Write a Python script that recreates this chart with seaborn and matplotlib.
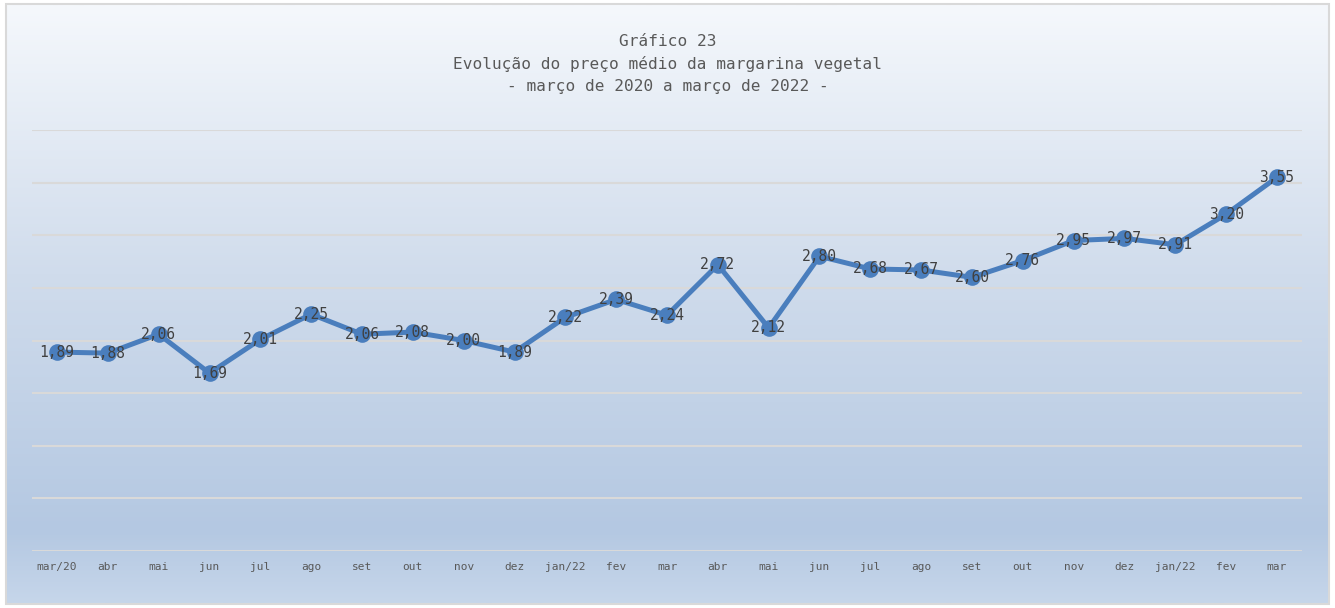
import numpy as np
import seaborn as sns
import matplotlib.pyplot as plt
from matplotlib.colors import LinearSegmentedColormap
from matplotlib.patches import Rectangle

# dados do gráfico
meses = ['mar/20', 'abr', 'mai', 'jun', 'jul', 'ago', 'set', 'out', 'nov', 'dez',
         'jan/22', 'fev', 'mar', 'abr', 'mai', 'jun', 'jul', 'ago', 'set', 'out',
         'nov', 'dez', 'jan/22', 'fev', 'mar']
precos = [1.89, 1.88, 2.06, 1.69, 2.01, 2.25, 2.06, 2.08, 2.00, 1.89,
          2.22, 2.39, 2.24, 2.72, 2.12, 2.80, 2.68, 2.67, 2.60, 2.76,
          2.95, 2.97, 2.91, 3.20, 3.55]
titulo = 'Gráfico 23\nEvolução do preço médio da margarina vegetal\n- março de 2020 a março de 2022 -'

sns.set_style('white')
plt.rcParams['font.family'] = ['DejaVu Sans Mono']

W, H = 1335, 608
fig = plt.figure(figsize=(W / 100, H / 100), dpi=100)

# fundo em degradê
bg = fig.add_axes([7 / W, 5 / H, (1328 - 7) / W, (603 - 5) / H])
cmap = LinearSegmentedColormap.from_list(
    'fundo', [(0, '#c6d6ea'), (0.12, '#b4c8e2'), (0.55, '#d0dcec'), (1, '#f5f8fc')])
grad = np.linspace(0, 1, 256).reshape(-1, 1)
bg.imshow(grad, cmap=cmap, aspect='auto', origin='lower', extent=[0, 1, 0, 1])
bg.set_axis_off()
fig.patches.append(Rectangle((6 / W, 4 / H), 1323 / W, 600 / H,
                             transform=fig.transFigure, fill=False,
                             edgecolor='#d9d9d9', linewidth=1.5))

ax = fig.add_axes([31.6 / W, 57 / H, 1270.8 / W, 421 / H])
ax.patch.set_alpha(0)

x = np.arange(len(precos))
sns.lineplot(x=x, y=precos, ax=ax, color='#4a7ebd', linewidth=3.6,
             marker='o', markersize=12, markeredgewidth=0, zorder=3)

for xi, v in zip(x, precos):
    ax.text(xi, v, f'{v:.2f}'.replace('.', ','), ha='center', va='center',
            fontsize=10.5, color='#404040', zorder=4)

ax.set_xlim(-0.5, len(precos) - 0.5)
ax.set_ylim(0, 4)
ax.set_yticks(np.arange(0, 4.01, 0.5))
ax.set_yticklabels([])
ax.yaxis.grid(True, color='#d9d9d9', linewidth=1.5)
ax.set_axisbelow(True)
ax.set_xticks(x)
ax.set_xticklabels(meses, fontsize=8, color='#595959')
ax.tick_params(axis='x', length=0, pad=8)
ax.tick_params(axis='y', length=0)
for s in ax.spines.values():
    s.set_visible(False)

fig.text(0.5, 1 - 64 / H, titulo, ha='center', va='center', fontsize=11.6,
         color='#595959', linespacing=1.6)

fig.savefig('out.png', dpi=100)
plt.close(fig)
